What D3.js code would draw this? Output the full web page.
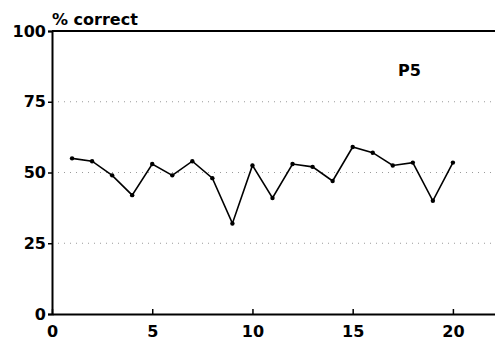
<!DOCTYPE html>
<html>
<head>
<meta charset="utf-8">
<script src="https://cdn.jsdelivr.net/npm/d3@7"></script>
<style>
  html, body { margin: 0; padding: 0; background: #fff; }
  svg { display: block; }
  text { font-family: "DejaVu Sans", sans-serif; font-weight: bold; fill: #000; }
</style>
</head>
<body>
<script>
// Session-by-session accuracy for participant P5
const sessions = [1, 2, 3, 4, 5, 6, 7, 8, 9, 10, 11, 12, 13, 14, 15, 16, 17, 18, 19, 20];
const percentCorrect = [55, 54, 49, 42, 53, 49, 54, 48, 32, 52.5, 41, 53, 52, 47, 59, 57, 52.5, 53.5, 40, 53.5];
const xTicks = [0, 5, 10, 15, 20];
const yTicks = [0, 25, 50, 75, 100];
const gridValues = [25, 50, 75];

const W = 495, H = 343;
const plotLeft = 52, plotRight = 495, plotTop = 31, plotBottom = 314;

const svg = d3.select("body").append("svg").attr("width", W).attr("height", H);

const x = d3.scaleLinear().domain([0, 22.1]).range([plotLeft, plotRight]);
const y = d3.scaleLinear().domain([0, 100]).range([plotBottom, plotTop]);

// dotted reference lines
svg.append("g").selectAll("line").data(gridValues).join("line")
  .attr("x1", plotLeft).attr("x2", plotRight)
  .attr("y1", d => y(d)).attr("y2", d => y(d))
  .attr("stroke", "#9a9a9a").attr("stroke-width", 1)
  .attr("stroke-dasharray", "1,5");

// y axis
const yAxis = d3.axisLeft(y).tickValues(yTicks).tickSize(4).tickPadding(2);
const gy = svg.append("g").attr("transform", `translate(${plotLeft},0)`).call(yAxis);
gy.select(".domain").attr("stroke", "#000").attr("stroke-width", 2);
gy.selectAll(".tick line").attr("stroke", "#000").attr("stroke-width", 1.5);
gy.selectAll(".tick text").attr("font-size", 16).attr("font-family", "DejaVu Sans").attr("font-weight", "bold").attr("fill", "#000");

// x axis with inward ticks
const xAxis = d3.axisBottom(x).tickValues(xTicks).tickSize(-5).tickPadding(12).tickSizeOuter(0);
const gx = svg.append("g").attr("transform", `translate(0,${plotBottom})`).call(xAxis);
gx.select(".domain").attr("stroke", "#000").attr("stroke-width", 2);
gx.selectAll(".tick line").attr("stroke", "#000").attr("stroke-width", 1.5);
gx.selectAll(".tick text").attr("font-size", 16).attr("font-family", "DejaVu Sans").attr("font-weight", "bold").attr("fill", "#000");

// top frame line
svg.append("line")
  .attr("x1", x(0)).attr("x2", plotRight)
  .attr("y1", y(100)).attr("y2", y(100))
  .attr("stroke", "#000").attr("stroke-width", 2);

// data line and markers
const pts = sessions.map((s, i) => [s, percentCorrect[i]]);
svg.append("path").datum(pts)
  .attr("fill", "none").attr("stroke", "#000").attr("stroke-width", 1.6)
  .attr("d", d3.line().x(d => x(d[0])).y(d => y(d[1])));
svg.append("g").selectAll("circle").data(pts).join("circle")
  .attr("cx", d => x(d[0])).attr("cy", d => y(d[1])).attr("r", 2.2).attr("fill", "#000");

// labels
svg.append("text").attr("x", 52).attr("y", 25).attr("font-size", 16).text("% correct");
svg.append("text").attr("x", 398).attr("y", 76).attr("font-size", 16).text("P5");
</script>
</body>
</html>
